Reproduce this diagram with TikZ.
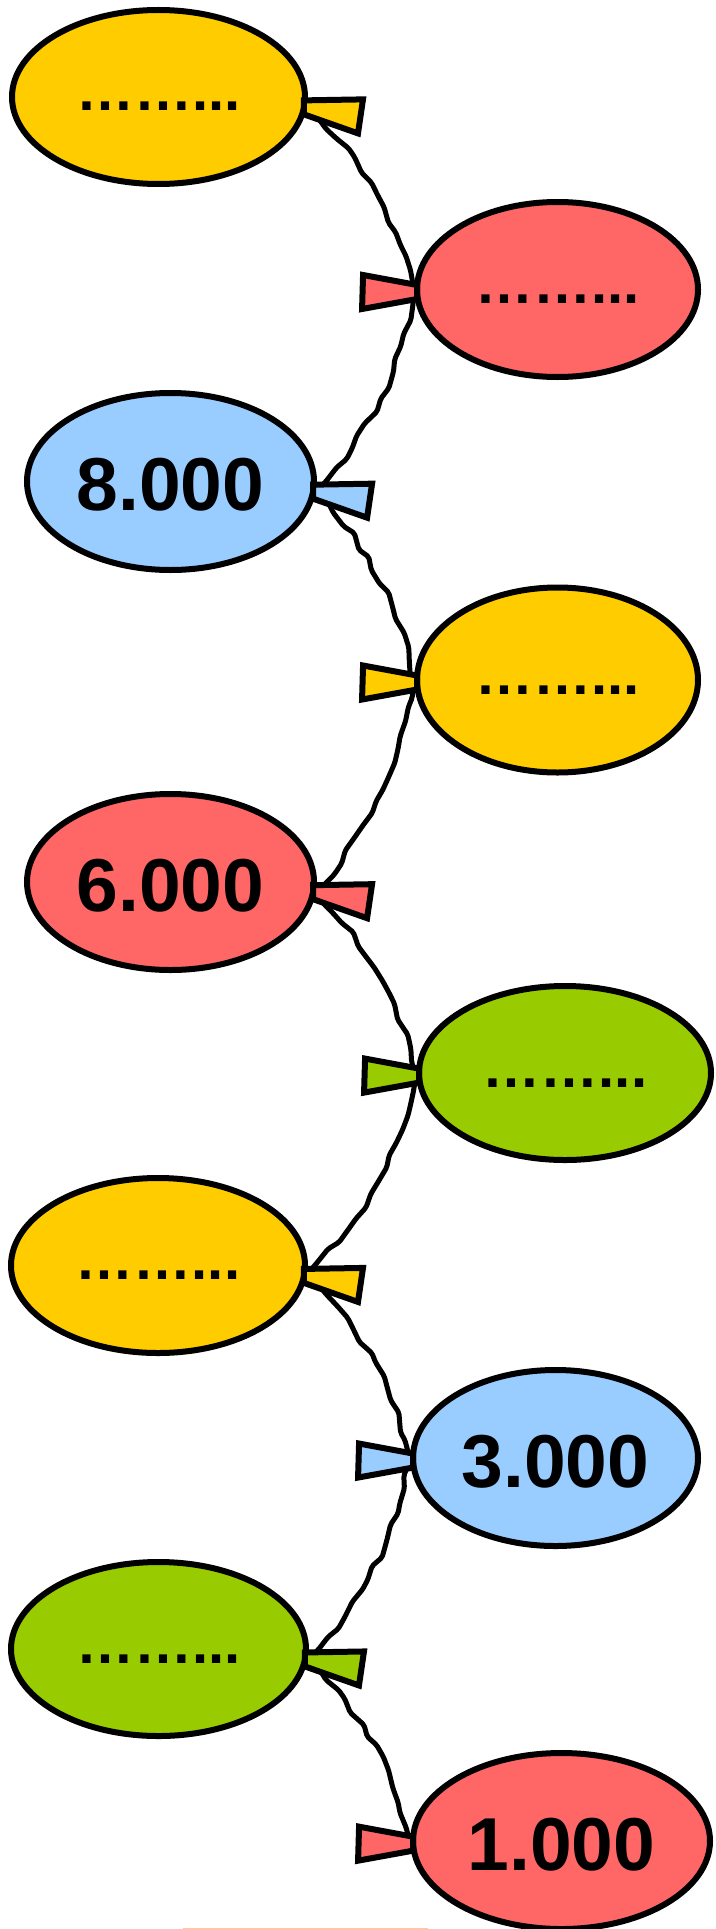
\documentclass[tikz,border=0pt]{standalone}
\usepackage{fontspec}
\setmainfont{Liberation Sans}
\usetikzlibrary{shapes.geometric,calc,backgrounds,decorations.pathmorphing}
\definecolor{yel}{HTML}{FFCC00}
\definecolor{rose}{HTML}{FF6666}
\definecolor{sky}{HTML}{99CCFF}
\definecolor{lime}{HTML}{99CC00}
\definecolor{rimorange}{HTML}{FFCC88}

\tikzset{
	balloon/.style={ellipse, draw=black, line width=6pt, inner sep=0pt},
	amount/.style={font=\bfseries\fontsize{75}{75}\selectfont, text height=58pt, text depth=0pt},
	blank/.style={font=\bfseries\fontsize{58}{58}\selectfont, text height=28pt, text depth=0pt},
	knot/.style={draw=black, line width=6pt, line join=miter},
	string/.style={line width=5pt, decorate,
		decoration={random steps, segment length=14pt, amplitude=3pt}, rounded corners=2pt}
}

\begin{document}
\begin{tikzpicture}[x=1pt,y=1pt]
				\pgfmathsetseed{7}
				\useasboundingbox (0,0) rectangle (715,-1929);
				
				% balloons
				\node[balloon, fill=yel, minimum width=293pt, minimum height=174pt, blank] (b1) at (158.5,-97) {……...};
				\node[balloon, fill=rose, minimum width=281pt, minimum height=175pt, blank] (b2) at (557.5,-289.5) {……...};
				\node[balloon, fill=sky, minimum width=287pt, minimum height=177pt, amount] (b3) at (170.5,-481.5) {8.000};
				\node[balloon, fill=yel, minimum width=281pt, minimum height=185pt, blank] (b4) at (557.5,-680) {……...};
				\node[balloon, fill=rose, minimum width=287pt, minimum height=176pt, amount] (b5) at (170.5,-882) {6.000};
				\node[balloon, fill=lime, minimum width=292pt, minimum height=174pt, blank] (b6) at (565,-1073) {……...};
				\node[balloon, fill=yel, minimum width=294pt, minimum height=175pt, blank] (b7) at (158,-1265.5) {……...};
				\node[balloon, fill=sky, minimum width=285pt, minimum height=176pt, amount] (b8) at (555.5,-1458) {3.000};
				\node[balloon, fill=lime, minimum width=295pt, minimum height=174pt, blank] (b9) at (158.5,-1649) {……...};
				\node[balloon, fill=rose, minimum width=297pt, minimum height=176pt, amount] (b10) at (561.5,-1841) {1.000};
				
				% knots
				\foreach \i/\c in {1/yel,3/sky,5/rose,7/yel,9/lime}{
					\coordinate (k\i) at (b\i.-4);
					\filldraw[knot, fill=\c, shift={(k\i)}] (-3,7) -- (56,8) -- (51,-26) -- (-3,-7) -- cycle;}
				\foreach \i/\c in {2/rose,4/yel,6/lime,8/sky,10/rose}{
					\coordinate (k\i) at (b\i.181);
					\filldraw[knot, fill=\c, shift={(k\i)}] (3,7) -- (-51,17) -- (-52,-17) -- (3,-7) -- cycle;}
				
				% strings
				\begin{scope}[on background layer]
					\foreach \j [remember=\j as \i (initially 1)] in {2,...,10}{
						\draw[string] (k\i) to[bend left=15] (k\j);}
				\end{scope}
				
				\draw[rimorange, line width=1pt] (183,-1928.5) -- (428,-1928.5);
			\end{tikzpicture}
\end{document}
